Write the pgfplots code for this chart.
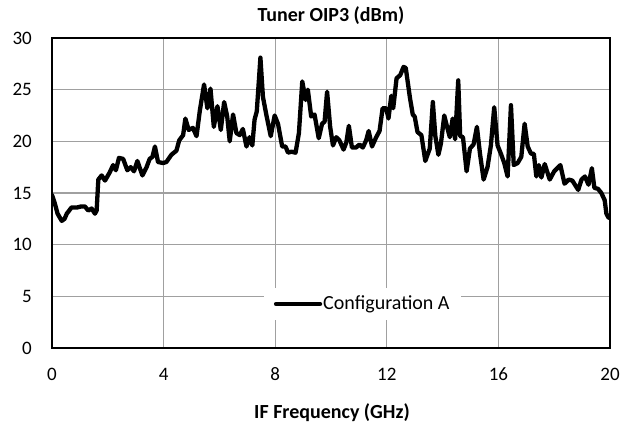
\documentclass[border=0pt]{standalone}
\usepackage{fontspec}
\setmainfont{Carlito}
\usepackage{pgfplots}
\pgfplotsset{compat=1.18}
\definecolor{gridgray}{RGB}{160,160,160}
\begin{document}
\fontsize{19bp}{22bp}\selectfont
\begin{tikzpicture}
\useasboundingbox (-52bp,-74bp) rectangle (582bp,348bp);
\begin{axis}[
  at={(0,0)}, anchor=south west,
  scale only axis,
  width=558bp, height=310bp,
  xmin=0, xmax=20, ymin=0, ymax=30,
  xtick={0,4,8,12,16,20},
  ytick={0,5,10,15,20,25,30},
  major tick length=0pt,
  grid=major,
  major grid style={draw=gridgray, line width=1.3bp},
  axis line style={draw=black, line width=2.2bp},
  /pgf/number format/assume math mode=true,
  ticklabel style={font=\fontsize{19bp}{22bp}\selectfont, inner sep=0pt},
  yticklabel style={anchor=east, xshift=-20bp},
  xticklabel style={anchor=base, yshift=-32bp},
  title={Tuner OIP3 (dBm)},
  title style={at={(axis description cs:0.5,1)}, anchor=base, yshift=11bp, inner sep=0pt, font=\bfseries\fontsize{20bp}{23bp}\selectfont},
  xlabel={IF Frequency (GHz)},
  xlabel style={at={(axis description cs:0.5,0)}, anchor=base, yshift=-70bp, xshift=1bp, inner sep=0pt, font=\bfseries\fontsize{20bp}{23bp}\selectfont},
  legend style={at={(rel axis cs:0.556,0.142)}, anchor=center, draw=none, fill=white,
    inner xsep=10bp, inner ysep=6bp, font=\fontsize{20bp}{23bp}\selectfont,
    nodes={inner xsep=1bp, inner ysep=2bp}},
  legend image code/.code={\draw[line width=4.3bp] (0bp,0bp) -- (44bp,0bp);},
]
\addplot[black, line width=4.3bp, line join=round, line cap=round] coordinates {
(0.00,14.8) (0.10,14.0) (0.20,13.0) (0.35,12.3) (0.45,12.5) (0.53,13.0)
(0.70,13.6) (0.90,13.6) (1.05,13.7) (1.18,13.7) (1.30,13.3) (1.42,13.5)
(1.54,13.0) (1.60,13.3) (1.66,16.3) (1.78,16.7) (1.90,16.2) (2.07,17.0)
(2.19,17.7) (2.29,17.2) (2.40,18.4) (2.55,18.3) (2.70,17.2) (2.82,17.5)
(2.94,17.1) (3.06,18.1) (3.15,17.4) (3.24,16.7) (3.39,17.5) (3.50,18.3)
(3.60,18.5) (3.69,19.5) (3.80,18.0) (3.98,17.9) (4.10,18.0) (4.28,18.7)
(4.46,19.1) (4.56,20.1) (4.70,20.6) (4.78,22.2) (4.90,21.1) (5.05,21.3)
(5.18,20.5) (5.30,23.0) (5.45,25.5) (5.57,23.2) (5.68,25.1) (5.80,21.4)
(5.93,23.4) (6.05,21.1) (6.17,23.8) (6.28,22.4) (6.37,20.0) (6.49,22.6)
(6.61,20.8) (6.73,20.6) (6.84,21.2) (6.97,19.5) (7.08,20.4) (7.18,19.6)
(7.26,22.1) (7.34,22.9) (7.47,28.1) (7.56,24.3) (7.68,22.6) (7.84,20.5)
(7.98,22.5) (8.10,21.7) (8.25,19.5) (8.37,19.5) (8.46,18.9) (8.58,19.0)
(8.73,18.9) (8.85,20.8) (8.97,25.8) (9.09,24.0) (9.17,25.0) (9.29,22.4)
(9.41,22.6) (9.56,20.3) (9.68,21.7) (9.77,21.9) (9.86,24.8) (9.97,21.4)
(10.07,19.6) (10.19,20.4) (10.30,20.1) (10.45,19.2) (10.55,19.9) (10.64,21.5)
(10.75,19.4) (10.90,19.4) (11.02,19.7) (11.14,19.4) (11.26,20.1) (11.35,21.0)
(11.47,19.5) (11.62,20.4) (11.74,21.0) (11.85,23.2) (11.98,23.2) (12.06,22.2)
(12.16,24.4) (12.23,23.2) (12.35,26.1) (12.48,26.4) (12.60,27.2) (12.68,27.1)
(12.83,24.2) (12.93,22.6) (13.00,22.4) (13.10,20.9) (13.24,20.6) (13.38,18.1)
(13.54,19.3) (13.65,23.8) (13.74,20.5) (13.85,18.7) (13.94,19.8) (14.06,22.5)
(14.16,21.4) (14.26,20.4) (14.36,22.2) (14.45,20.2) (14.56,25.9) (14.63,20.5)
(14.73,20.4) (14.86,17.1) (14.98,19.3) (15.11,19.7) (15.23,21.4) (15.34,18.8)
(15.47,16.3) (15.61,17.5) (15.73,19.6) (15.85,23.3) (15.97,19.6) (16.09,18.8)
(16.21,17.9) (16.33,16.6) (16.45,23.5) (16.55,17.7) (16.69,17.9) (16.82,18.5)
(16.94,21.7) (17.05,19.5) (17.17,18.8) (17.27,18.8) (17.36,16.6) (17.45,17.7)
(17.54,16.5) (17.66,17.8) (17.84,16.3) (18.00,17.1) (18.22,17.7) (18.37,15.9)
(18.52,16.3) (18.65,16.2) (18.86,15.3) (18.98,16.3) (19.10,16.6) (19.23,15.8)
(19.35,17.4) (19.44,15.5) (19.57,15.4) (19.69,15.0) (19.81,14.3) (19.87,13.0)
(19.95,12.6) (20.00,12.6)
};
\addlegendentry{Configuration A}
\end{axis}
\end{tikzpicture}
\end{document}
